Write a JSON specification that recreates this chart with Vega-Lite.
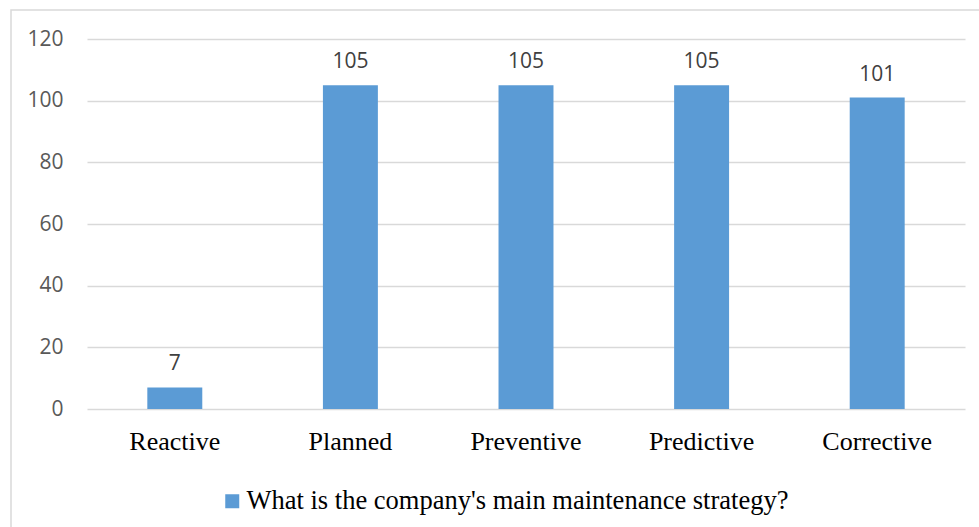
{
  "$schema": "https://vega.github.io/schema/vega-lite/v6.json",
  "width": 973,
  "height": 522,
  "autosize": {"type": "none"},
  "padding": {"left": 11, "top": 10, "right": 0, "bottom": 0},
  "background": "white",
  "config": {"view": {"stroke": "#D9D9D9", "strokeWidth": 1.5}},
  "data": {
    "values": [
      {"strategy": "Reactive", "count": 7},
      {"strategy": "Planned", "count": 105},
      {"strategy": "Preventive", "count": 105},
      {"strategy": "Predictive", "count": 105},
      {"strategy": "Corrective", "count": 101}
    ]
  },
  "encoding": {
    "x": {
      "field": "strategy",
      "type": "nominal",
      "sort": null,
      "scale": {"range": [76, 954], "paddingInner": 0.687, "paddingOuter": 0.3435},
      "axis": {
        "title": null,
        "offset": -123,
        "labelAngle": 0,
        "labelFont": "Liberation Serif",
        "labelFontSize": 26,
        "labelColor": "#000000",
        "labelPadding": 19,
        "ticks": false,
        "domain": false
      }
    },
    "y": {
      "field": "count",
      "type": "quantitative",
      "scale": {"domain": [0, 120], "nice": false, "range": [399, 29]},
      "axis": {
        "title": null,
        "offset": -76,
        "values": [0, 20, 40, 60, 80, 100, 120],
        "grid": true,
        "gridColor": "#D9D9D9",
        "gridWidth": 1.5,
        "domain": false,
        "ticks": false,
        "labelPadding": 24,
        "labelFont": "Open Sans",
        "labelFontSize": 21,
        "labelColor": "#595959"
      }
    }
  },
  "layer": [
    {
      "mark": {"type": "bar"},
      "encoding": {
        "color": {
          "datum": "What is the company's main maintenance strategy?",
          "type": "nominal",
          "scale": {"range": ["#5B9BD5"]},
          "legend": {
            "orient": "none",
            "legendX": 208,
            "legendY": 478,
            "title": null,
            "padding": 0,
            "symbolType": "square",
            "symbolSize": 196,
            "symbolStrokeWidth": 0,
            "labelFont": "Liberation Serif",
            "labelFontSize": 26.5,
            "labelColor": "#000000",
            "labelOffset": 1,
            "labelLimit": 1000
          }
        }
      }
    },
    {
      "mark": {
        "type": "text",
        "baseline": "alphabetic",
        "dy": -17,
        "font": "Open Sans",
        "fontSize": 21,
        "color": "#404040"
      },
      "encoding": {"text": {"field": "count", "type": "quantitative"}}
    }
  ]
}
